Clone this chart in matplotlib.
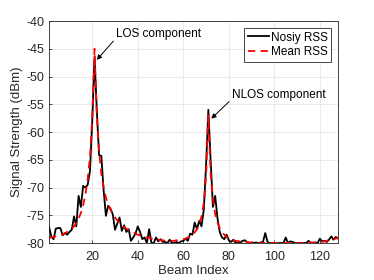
import numpy as np
import matplotlib
matplotlib.use("Agg")
import matplotlib.pyplot as plt

plt.rcParams["font.family"] = ["Liberation Sans", "DejaVu Sans"]
plt.rcParams["axes.unicode_minus"] = False

beam = np.arange(1, 129)

noisy_rss = [
    -77.0, -78.8, -79.3, -77.4, -77.3, -77.3, -78.6, -78.2, -78.5, -78.0,
    -77.6, -75.2, -77.0, -71.5, -73.5, -69.7, -70.0, -69.5, -67.0, -58.0,
    -46.5, -56.0, -64.2, -64.3, -70.5, -75.1, -73.3, -73.8, -74.8, -77.6,
    -76.5, -75.4, -77.8, -76.8, -78.0, -77.5, -79.6, -79.0, -78.3, -77.0,
    -78.0, -79.3, -79.0, -80.0, -77.5, -80.0, -80.0, -79.0, -79.7, -79.3,
    -79.8, -79.8, -80.0, -79.4, -80.0, -80.0, -79.8, -80.0, -79.7, -79.6,
    -79.2, -79.6, -78.3, -78.5, -76.3, -77.5, -76.0, -77.0, -74.0, -66.0,
    -56.0, -65.0, -73.5, -71.5, -75.5, -78.0, -79.0, -79.3, -78.5, -79.5,
    -79.8, -79.4, -80.0, -79.7, -80.0, -79.6, -79.5, -79.8, -80.0, -79.9,
    -80.0, -79.9, -80.0, -79.9, -79.8, -78.2, -79.8, -80.0, -80.0, -80.0,
    -80.0, -80.0, -80.0, -80.0, -79.0, -80.0, -79.7, -79.8, -80.0, -80.0,
    -80.0, -80.0, -80.0, -80.0, -79.6, -80.0, -80.0, -79.9, -80.0, -79.2,
    -79.7, -79.6, -79.8, -79.4, -78.8, -79.4, -78.9, -79.2,
]

mean_rss = [
    -79.0, -79.0, -78.9, -78.8, -78.7, -78.6, -78.4, -78.2, -78.0, -77.7,
    -77.4, -77.0, -76.4, -75.6, -74.6, -73.2, -71.2, -68.5, -64.5, -57.5,
    -45.0, -57.0, -63.5, -67.5, -70.0, -71.8, -73.0, -74.0, -74.8, -75.4,
    -75.9, -76.4, -76.8, -77.1, -77.4, -77.7, -77.9, -78.1, -78.3, -78.5,
    -78.6, -78.8, -78.9, -79.0, -79.1, -79.2, -79.3, -79.4, -79.4, -79.5,
    -79.5, -79.6, -79.6, -79.6, -79.6, -79.6, -79.5, -79.5, -79.4, -79.3,
    -79.2, -79.0, -78.8, -78.5, -78.1, -77.5, -76.6, -75.2, -72.8, -68.0,
    -57.0, -67.5, -72.0, -74.8, -76.3, -77.3, -78.0, -78.5, -78.9, -79.2,
    -79.4, -79.5, -79.6, -79.7, -79.7, -79.8, -79.8, -79.8, -79.9, -79.9,
    -79.9, -79.9, -80.0, -80.0, -80.0, -80.0, -80.0, -80.0, -80.0, -80.0,
    -80.0, -80.0, -80.0, -80.0, -80.0, -80.0, -80.0, -80.0, -80.0, -80.0,
    -80.0, -80.0, -80.0, -80.0, -80.0, -79.9, -79.9, -79.9, -79.9, -79.8,
    -79.8, -79.7, -79.6, -79.5, -79.4, -79.3, -79.2, -79.0,
]

fig = plt.figure(figsize=(3.74, 2.8), dpi=100)
ax = fig.add_axes([0.131, 0.132, 0.773, 0.793])

ax.plot(beam, noisy_rss, color="black", lw=1.3, label="Nosiy RSS")
ax.plot(beam, mean_rss, color="red", lw=1.3, ls=(0, (4, 3)), label="Mean RSS")

ax.set_xlim(1, 128)
ax.set_ylim(-80, -40)
ax.set_xticks([20, 40, 60, 80, 100, 120])
ax.set_yticks(np.arange(-80, -39, 5))
ax.grid(True, color="#e6e6e6", lw=0.6)
ax.set_axisbelow(True)
ax.tick_params(labelsize=9, colors="#262626", length=2, direction="in", width=0.6)
ax.tick_params(axis="x", pad=6)
for s in ax.spines.values():
    s.set_color("#262626")
    s.set_linewidth(0.6)

ax.set_xlabel("Beam Index", fontsize=9.5, color="#262626", labelpad=1)
ax.set_ylabel("Signal Strength (dBm)", fontsize=9.5, color="#262626", labelpad=2)

ax.annotate("LOS component", xy=(22, -47), xytext=(30.5, -42.4),
            fontsize=8.5, ha="left", va="center",
            arrowprops=dict(arrowstyle="-|>", color="black", lw=0.7,
                            mutation_scale=7, shrinkA=0, shrinkB=0,
                            relpos=(0, 0.2)))
ax.annotate("NLOS component", xy=(72.3, -57.6), xytext=(81.3, -53.4),
            fontsize=8.5, ha="left", va="center",
            arrowprops=dict(arrowstyle="-|>", color="black", lw=0.7,
                            mutation_scale=7, shrinkA=0, shrinkB=0,
                            relpos=(0, 0.2)))

leg = ax.legend(loc="upper right", fontsize=8.5, handlelength=1.8,
                borderpad=0.3, labelspacing=0.2, handletextpad=0.15,
                fancybox=False, borderaxespad=0.6)
leg.get_frame().set_edgecolor("#262626")
leg.get_frame().set_linewidth(0.6)
leg.get_frame().set_alpha(1)

fig.savefig("out.png", dpi=100)
